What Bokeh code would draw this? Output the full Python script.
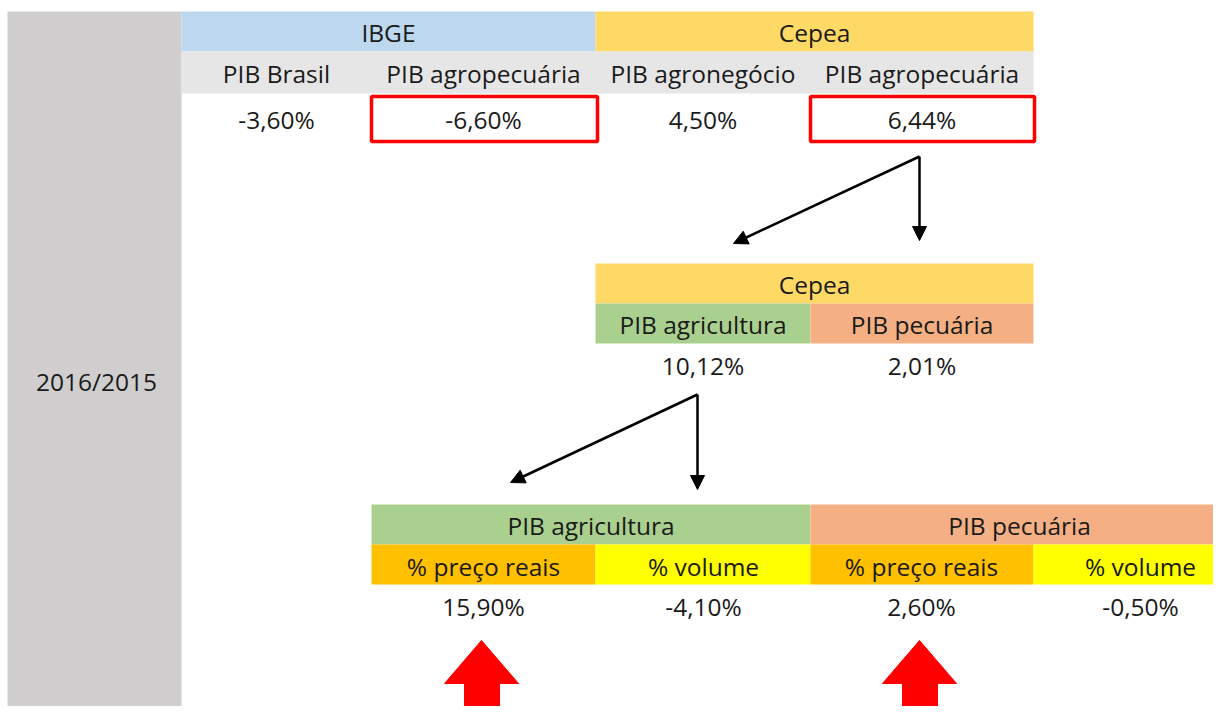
from bokeh.plotting import figure
from bokeh.models import Range1d, Arrow, NormalHead
from bokeh.core.properties import value
from bokeh.embed import file_html
from bokeh.resources import INLINE

# ---------------- data ----------------
period = "2016/2015"
top_groups = ["IBGE", "Cepea"]
top_labels = ["PIB Brasil", "PIB agropecuária", "PIB agronegócio", "PIB agropecuária"]
top_values = [-3.60, -6.60, 4.50, 6.44]
mid_group = "Cepea"
mid_labels = ["PIB agricultura", "PIB pecuária"]
mid_values = [10.12, 2.01]
bot_groups = ["PIB agricultura", "PIB pecuária"]
bot_labels = ["% preço reais", "% volume", "% preço reais", "% volume"]
bot_values = [15.90, -4.10, 2.60, -0.50]


def fmt(v):
    return f"{v:.2f}".replace(".", ",") + "%"


# ---------------- layout (pixel coords) ----------------
FONT = value("Open Sans")
FS = "24.5px"
W, H = 1213, 706
p = figure(width=W, height=H, x_range=Range1d(0, W), y_range=Range1d(H, 0),
           output_backend="svg", toolbar_location=None, min_border=0)
p.axis.visible = False
p.grid.visible = False
p.outline_line_color = None
p.background_fill_color = "white"
p.border_fill_color = "white"

cols4 = [181, 371, 595, 810, 1033]
cols_b = [371, 595, 810, 1033, 1240]

C_BLUE = "#BDD7EE"
C_GOLD = "#FFD966"
C_LGREY = "#E7E6E6"
C_DGREY = "#D0CECE"
C_GREEN = "#A9D08E"
C_SALMON = "#F4B084"
C_ORANGE = "#FFC000"
C_YELLOW = "#FFFF00"


def cell(x0, x1, y0, y1, color):
    p.quad(left=x0, right=x1, top=y0, bottom=y1, fill_color=color, line_color=None)


def txt(x, y, s):
    p.text(x=[x], y=[y], text=[s], text_font=FONT, text_font_size=FS,
           text_align="center", text_baseline="middle", text_color="#1a1a1a")


# grey period column
cell(7, 181, 11, 730, C_DGREY)
txt(96, 381, period)

# top table
cell(181, 595, 11, 51, C_BLUE)
cell(595, 1033, 11, 51, C_GOLD)
txt((181 + 595) / 2, 32, top_groups[0])
txt((595 + 1033) / 2, 32, top_groups[1])
cell(181, 1033, 51, 93, C_LGREY)
for i, lab in enumerate(top_labels):
    xc = (cols4[i] + cols4[i + 1]) / 2
    txt(xc, 73, lab)
    txt(xc, 119, fmt(top_values[i]))

# red highlight boxes
for x0, x1 in [(371, 597), (810, 1034)]:
    p.quad(left=x0, right=x1, top=96, bottom=141, fill_color=None,
           line_color="#FF0000", line_width=3.5)

# black arrows from 6,44%
def arrow(xs, ys, xe, ye):
    p.add_layout(Arrow(end=NormalHead(size=14, fill_color="black", line_color="black"),
                       x_start=xs, y_start=ys, x_end=xe, y_end=ye,
                       line_width=2.5, line_color="black"))

arrow(919, 156, 733, 243)
arrow(919, 156, 919, 240)

# middle table
cell(595, 1033, 263, 303, C_GOLD)
txt(814, 284, mid_group)
cell(595, 810, 303, 343, C_GREEN)
cell(810, 1033, 303, 343, C_SALMON)
for i, lab in enumerate(mid_labels):
    xc = (cols4[i + 2] + cols4[i + 3]) / 2
    txt(xc, 324, lab)
    txt(xc, 365, fmt(mid_values[i]))

# arrows from 10,12%
arrow(697, 394, 510, 482)
arrow(697, 394, 697, 489)

# bottom table
cell(371, 810, 504, 544, C_GREEN)
cell(810, 1240, 504, 544, C_SALMON)
txt((371 + 810) / 2, 525, bot_groups[0])
txt(1019, 525, bot_groups[1])
bcolors = [C_ORANGE, C_YELLOW, C_ORANGE, C_YELLOW]
bcenters = [483, 703, 921, 1140]
for i, lab in enumerate(bot_labels):
    cell(cols_b[i], cols_b[i + 1], 544, 584, bcolors[i])
    txt(bcenters[i], 566, lab)
    txt(bcenters[i], 606, fmt(bot_values[i]))

# red block arrows
for xc in [481, 919]:
    p.patch(x=[xc, xc + 37, xc + 18, xc + 18, xc - 17, xc - 17, xc - 37],
            y=[640, 683, 683, 730, 730, 683, 683],
            fill_color="#FF0000", line_color="#FF0000")

open("out.html", "w").write(file_html(p, INLINE))
